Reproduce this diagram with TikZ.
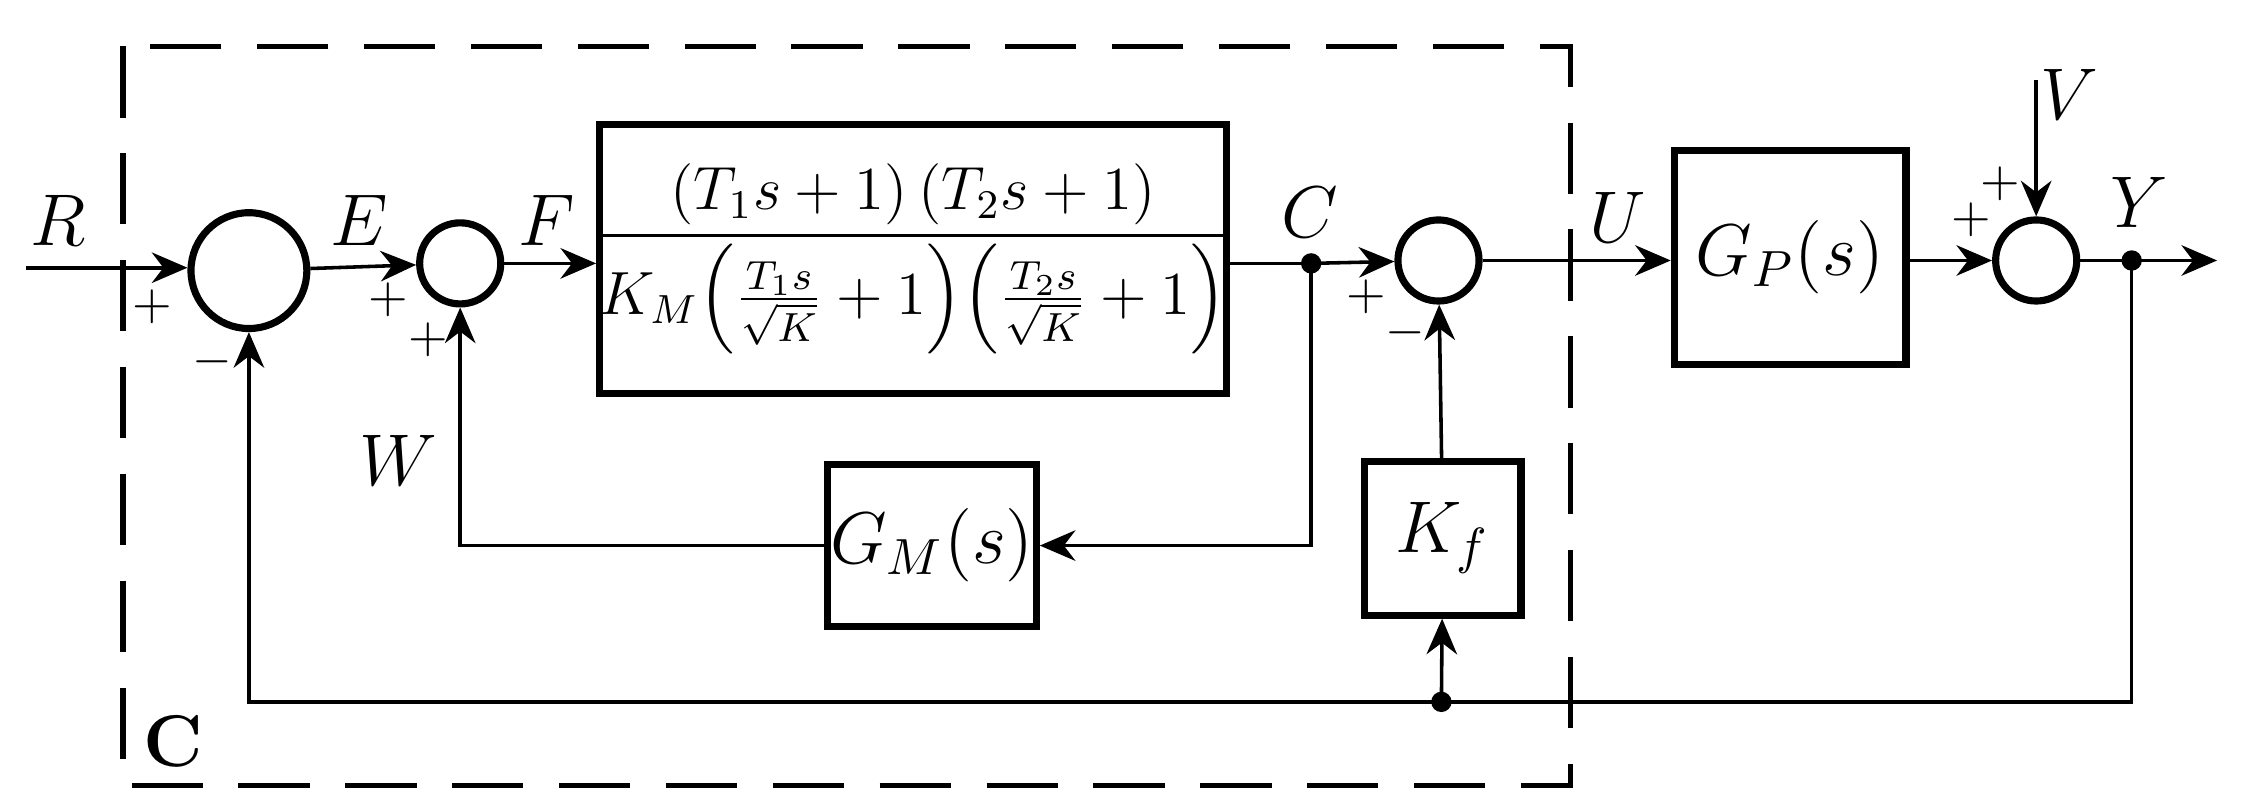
\documentclass[tikz,border=0pt]{standalone}
\usepackage{amsmath}
\usetikzlibrary{arrows.meta}
\begin{document}
\begin{tikzpicture}[x=0.01cm,y=-0.01cm,
 blk/.style={draw,line width=1.4pt,inner sep=0pt},
 sum/.style={draw,circle,line width=1.4pt,inner sep=0pt},
 ln/.style={line width=0.7pt},
 ar/.style={ln,-{Stealth[length=7pt,width=6pt]}},
 lab/.style={font=\Large},
 sg/.style={font=\normalsize}]
\useasboundingbox (0,0) rectangle (1552,561);
\draw[line width=1pt,dash pattern=on 14pt off 7pt] (85,32) rectangle (1085,543);
% summing junctions
\node[sum,minimum size=0.8cm] (s1) at (172,187) {};
\node[sum,minimum size=0.56cm] (s2) at (318,182) {};
\node[sum,minimum size=0.56cm] (s3) at (994,180) {};
\node[sum,minimum size=0.56cm] (s4) at (1407,180) {};
% blocks
\node[blk,minimum width=4.33cm,minimum height=1.86cm] (G) at (631,179) {};
\node[inner sep=0pt,font=\large] (Gt) at (G.center)
 {$\dfrac{(T_1s+1)\,(T_2s+1)}{K_M\Bigl(\frac{T_1s}{\sqrt{K}}+1\Bigr)\Bigl(\frac{T_2s}{\sqrt{K}}+1\Bigr)}$};
\node[blk,minimum width=1.6cm,minimum height=1.48cm,font=\Large] (Gp) at (1237,178) {$G_P(s)$};
\node[blk,minimum width=1.44cm,minimum height=1.12cm,font=\Large] (Gm) at (644,377) {$G_M(s)$};
\node[blk,minimum width=1.08cm,minimum height=1.06cm,font=\Large] (Kf) at (997,372) {$K_f$};
% coordinates
\coordinate (Rin) at (18,185);
\coordinate (Cp) at (906,182);
\coordinate (Yp) at (1473,180);
\coordinate (Yout) at (1532,180);
\coordinate (Vin) at (1407,55);
\coordinate (fbY) at (1473,485);
\coordinate (fbJ) at (996,485);
\coordinate (fbL) at (172,485);
% connectors
\draw[ar] (Rin) -- (Rin -| s1.west);
\draw[ar] (s1) -- (s2);
\draw[ar] (s2) -- (G.west |- s2);
\draw[ln] (G.east |- Cp) -- (Cp);
\draw[ar] (Cp) -- (s3);
\draw[ar] (s3) -- (Gp.west |- s3);
\draw[ar] (Gp.east |- s4) -- (s4);
\draw[ar] (s4) -- (Yout);
\draw[ar] (Vin) -- (s4);
\draw[ar] (Cp) |- (Gm);
\draw[ar] (Gm) -| (s2);
\draw[ar] (Kf) -- (s3);
\draw[ar] (Yp) |- (fbL) -- (s1);
\draw[ar] (fbJ) -- (Kf);
\fill (Cp) circle (2pt) (Yp) circle (2pt) (fbJ) circle (2pt);
% labels
\node[lab] at (40,152) {$R$};
\node[lab] at (248,152) {$E$};
\node[lab] at (378,152) {$F$};
\node[lab] at (905,147) {$C$};
\node[lab] at (1118,150) {$U$};
\node[lab] at (1478,140) {$Y$};
\node[lab] at (1430,65) {$V$};
\node[lab] at (275,318) {$W$};
\node[font=\Large\bfseries] at (120,512) {C};
% signs
\node[sg] at (105,212) {$+$};
\node[sg] at (147,250) {$-$};
\node[sg] at (268,207) {$+$};
\node[sg] at (296,235) {$+$};
\node[sg] at (944,205) {$+$};
\node[sg] at (971,230) {$-$};
\node[sg] at (1362,152) {$+$};
\node[sg] at (1382,127) {$+$};
\end{tikzpicture}
\end{document}
